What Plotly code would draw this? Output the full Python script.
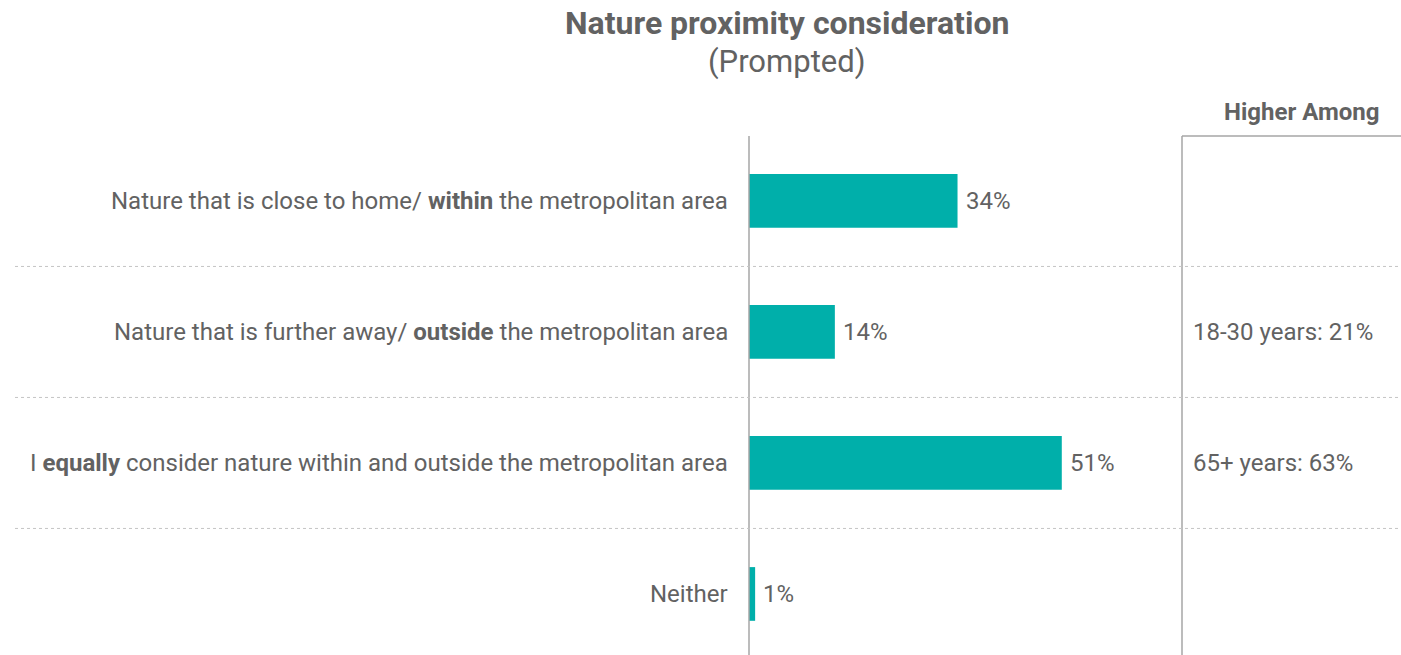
import plotly.graph_objects as go

# Survey answers and shares
categories = [
    "Nature that is close to home/ <b>within</b> the metropolitan area",
    "Nature that is further away/ <b>outside</b> the metropolitan area",
    "I <b>equally</b> consider nature within and outside the metropolitan area",
    "Neither",
]
shares = [34, 14, 51, 1]
higher_among = ["", "18-30 years: 21%", "65+ years: 63%", ""]

TEAL = "#00AFAA"
TEXT = "#626262"
LINE = "#A6A6A6"
FONT = "Roboto"
SIZE = 24

W, H = 1401, 655
pos = list(range(len(categories)))

fig = go.Figure()
fig.add_trace(go.Bar(
    x=shares,
    y=pos,
    orientation="h",
    width=0.41,
    marker=dict(color=TEAL, line=dict(width=0)),
    hoverinfo="skip",
))

x0, x1 = 749 / W, 1182 / W
fig.update_layout(
    width=W, height=H,
    margin=dict(l=0, r=0, t=0, b=0),
    paper_bgcolor="white", plot_bgcolor="white",
    showlegend=False,
    xaxis=dict(domain=[x0, x1], range=[0, 70.6], visible=False, fixedrange=True),
    yaxis=dict(domain=[0, 1], range=[3.466, -1.534], visible=False, fixedrange=True),
    font=dict(family=FONT, color=TEXT),
)

shapes = []
# left axis line
shapes.append(dict(type="line", xref="paper", yref="paper",
                   x0=x0, x1=x0, y0=0, y1=1 - 136 / H,
                   line=dict(color=LINE, width=1.5)))
# right column frame
shapes.append(dict(type="line", xref="paper", yref="paper",
                   x0=x1, x1=x1, y0=0, y1=1 - 136 / H,
                   line=dict(color=LINE, width=1.5)))
shapes.append(dict(type="line", xref="paper", yref="paper",
                   x0=x1, x1=1, y0=1 - 136 / H, y1=1 - 136 / H,
                   line=dict(color=LINE, width=1.5)))
# dotted separators between rows
for i in range(len(categories) - 1):
    shapes.append(dict(type="line", xref="paper", yref="y",
                       x0=15 / W, x1=1, y0=i + 0.5, y1=i + 0.5,
                       line=dict(color="#C4C4C4", width=1, dash="dot")))
fig.update_layout(shapes=shapes)

ann = []
for p, label in zip(pos, categories):
    ann.append(dict(xref="paper", yref="y", x=730 / W, y=p, text=label,
                    showarrow=False, xanchor="right", yanchor="middle",
                    font=dict(family=FONT, size=SIZE, color=TEXT)))
# value labels next to the bar ends
for p, v in zip(pos, shares):
    ann.append(dict(xref="x", yref="y", x=v, y=p, text=f"{v}%",
                    showarrow=False, xanchor="left", yanchor="middle", xshift=6,
                    font=dict(family=FONT, size=SIZE, color=TEXT)))
for p, t in zip(pos, higher_among):
    if t:
        ann.append(dict(xref="paper", yref="y", x=1191 / W, y=p, text=t,
                        showarrow=False, xanchor="left", yanchor="middle",
                        font=dict(family=FONT, size=SIZE, color=TEXT)))
ann.append(dict(xref="paper", yref="paper", x=1381 / W, y=1 - 112 / H,
                text="<b>Higher Among</b>", showarrow=False,
                xanchor="right", yanchor="middle",
                font=dict(family=FONT, size=SIZE, color=TEXT)))
ann.append(dict(xref="paper", yref="paper", x=787 / W, y=1 - 23 / H,
                text="<b>Nature proximity consideration</b>", showarrow=False,
                xanchor="center", yanchor="middle",
                font=dict(family=FONT, size=32, color=TEXT)))
ann.append(dict(xref="paper", yref="paper", x=787 / W, y=1 - 61 / H,
                text="(Prompted)", showarrow=False,
                xanchor="center", yanchor="middle",
                font=dict(family=FONT, size=31, color=TEXT)))
fig.update_layout(annotations=ann)

fig.write_html("out.html")
